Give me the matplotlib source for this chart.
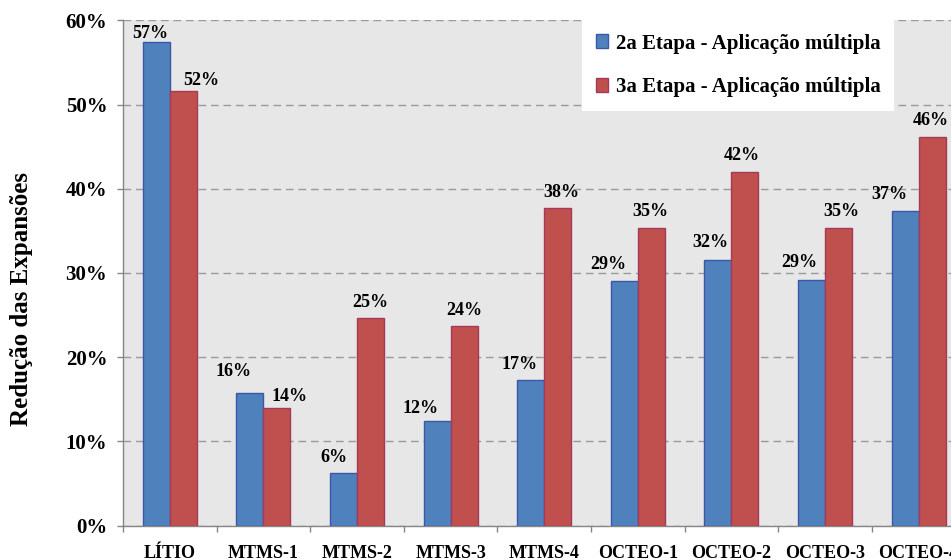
import matplotlib
matplotlib.use('Agg')
import matplotlib.pyplot as plt
import numpy as np
from matplotlib.patches import Patch
from matplotlib.font_manager import FontProperties

categories = ['LÍTIO', 'MTMS-1', 'MTMS-2', 'MTMS-3', 'MTMS-4',
              'OCTEO-1', 'OCTEO-2', 'OCTEO-3', 'OCTEO-4']
etapa2 = [57.4, 15.8, 6.3, 12.4, 17.3, 29.1, 31.6, 29.2, 37.4]
etapa3 = [51.6, 14.0, 24.7, 23.7, 37.7, 35.4, 42.0, 35.4, 46.2]
series_names = ['2a Etapa - Aplicação múltipla', '3a Etapa - Aplicação múltipla']
y_ticks = [0, 10, 20, 30, 40, 50, 60]
y_label = 'Redução das Expansões'

# label placement offsets (pixels) relative to bar top-centre
blue_dx = [-6, -16.5, -9.5, -17, -11, -15.7, -8, -12, -15.5]
blue_dy = [10, 22.7, 17, 14, 17, 17.6, 18.4, 19, 17.4]
red_dx = [17.5, 13, 0, 0, 4, -1, -3, 2.5, -1.5]
red_dy = [12, 12.7, 17, 17, 17.6, 18, 18, 18, 18]

SERIF = ['Liberation Serif', 'DejaVu Serif']
plt.rcParams['font.family'] = SERIF
plt.rcParams['font.weight'] = 'bold'

blue, blue_e = '#4f81bd', '#3c56a8'
red, red_e = '#c0504d', '#a33a5c'

fig = plt.figure(figsize=(9.51, 5.60), dpi=100)
ax = fig.add_axes([123 / 951, 34.3 / 560, 842.4 / 951, 505.4 / 560])
ax.set_facecolor('#e7e7e7')

x = np.arange(len(categories))
w = 0.2885
ax.bar(x - w / 2, etapa2, w, color=blue, edgecolor=blue_e, linewidth=1.0, zorder=3)
ax.bar(x + w / 2, etapa3, w, color=red, edgecolor=red_e, linewidth=1.0, zorder=3)

for i in range(len(categories)):
    ax.annotate(f"{round(etapa2[i])}%", xy=(x[i] - w / 2, etapa2[i]),
                xytext=(blue_dx[i], blue_dy[i] - 6), textcoords='offset pixels',
                ha='center', va='baseline', fontsize=13, fontweight='bold', zorder=5)
    ax.annotate(f"{round(etapa3[i])}%", xy=(x[i] + w / 2, etapa3[i]),
                xytext=(red_dx[i], red_dy[i] - 6), textcoords='offset pixels',
                ha='center', va='baseline', fontsize=13, fontweight='bold', zorder=5)

ax.set_xlim(-0.5, len(categories) - 0.5)
ax.set_ylim(0, 60)
ax.set_yticks(y_ticks)
ax.set_yticklabels([f"{t}%" for t in y_ticks], fontsize=15, fontweight='bold')
ax.set_xticks(x)
ax.set_xticklabels(categories, fontsize=13, fontweight='bold')
ax.set_xticks(np.arange(-0.5, len(categories), 1.0), minor=True)
ax.tick_params(axis='x', which='major', length=0, pad=14)
ax.tick_params(axis='x', which='minor', length=5.5 * 0.72, color='#868686', width=1.0)
ax.tick_params(axis='y', length=6 * 0.72, color='#868686', width=1.0, pad=7)

ax.set_axisbelow(True)
ax.yaxis.grid(True, color='#9a9a9a', linestyle=(0, (5.5, 3.5)), linewidth=1.0, zorder=0)
for s in ['top', 'right']:
    ax.spines[s].set_visible(False)
for s in ['left', 'bottom']:
    ax.spines[s].set_color('#868686')
    ax.spines[s].set_linewidth(1.0)

handles = [Patch(facecolor=blue, edgecolor=blue_e, linewidth=1.0),
           Patch(facecolor=red, edgecolor=red_e, linewidth=1.0)]
leg_font = FontProperties(family='Liberation Serif', weight='bold', size=15)
leg = fig.legend(handles, series_names, loc='upper left',
                 bbox_to_anchor=(582 / 951, 1 - 20 / 560), borderaxespad=0,
                 prop=leg_font,
                 frameon=True, fancybox=False, framealpha=1, facecolor='white',
                 edgecolor='none', handlelength=0.62, handleheight=0.62,
                 handletextpad=0.35, labelspacing=1.15, borderpad=0.65)
leg.set_zorder(10)

fig.text(22 / 951, 1 - 299 / 560, y_label, rotation=90, ha='center', va='center',
         fontsize=18, fontweight='bold')

fig.savefig('out.png', dpi=100)
